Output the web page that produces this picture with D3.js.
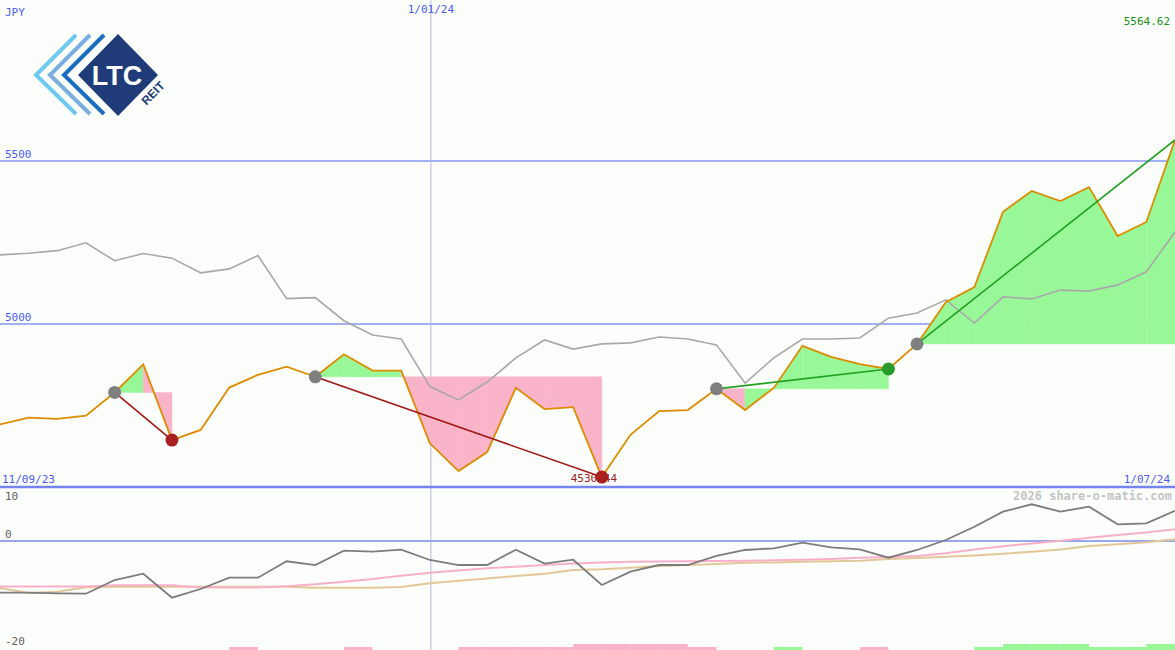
<!DOCTYPE html>
<html><head><meta charset="utf-8">
<script src="https://cdn.jsdelivr.net/npm/d3@7"></script>
<style>
html,body{margin:0;padding:0;background:#fcfefc;}
svg{display:block;}
text{font-family:"DejaVu Sans Mono",monospace;font-size:11px;}
</style></head><body>
<svg id="chart" width="1175" height="650"></svg>
<script>
// ---- data ----
const price = [4692,4713,4709,4719,4790,4876,4644,4675,4805,4844,4869,4838,4907,4857,4857,4634,4549,4607,4804,4739,4745,4530.44,4660,4733,4736,4801,4736,4804,4933,4899,4877,4862,4939,5067,5113,5344,5408,5377,5420,5270,5313,5564.62];
const compare = [5212,5217,5225,5249,5194,5216,5202,5157,5169,5210,5078,5081,5010,4966,4954,4808,4767,4822,4896,4951,4923,4939,4942,4960,4954,4936,4819,4896,4954,4954,4957,5018,5034,5074,5003,5083,5077,5104,5101,5120,5160,5282];
const momentum = [-9.66,-9.66,-9.78,-9.85,-7.29,-6.11,-10.6,-8.97,-6.86,-6.86,-3.79,-4.49,-1.81,-2.0,-1.63,-3.55,-4.49,-4.49,-1.63,-4.24,-3.5,-8.22,-5.74,-4.49,-4.49,-2.8,-1.68,-1.36,-0.32,-1.18,-1.55,-3.12,-1.68,0.19,2.67,5.48,6.86,5.48,6.41,3.12,3.31,5.66];
const maFast = [-8.5,-8.5,-8.5,-8.5,-8.25,-8.25,-8.25,-8.7,-8.7,-8.7,-8.45,-8.1,-7.6,-7.1,-6.5,-5.95,-5.5,-5.1,-4.8,-4.5,-4.2,-4.0,-3.9,-3.85,-3.8,-3.75,-3.7,-3.6,-3.5,-3.35,-3.15,-3.0,-2.8,-2.3,-1.6,-1.0,-0.45,0.05,0.6,1.1,1.6,2.2];
const maSlow = [-8.8,-9.7,-9.5,-8.65,-8.55,-8.55,-8.55,-8.55,-8.55,-8.55,-8.55,-8.73,-8.73,-8.73,-8.6,-7.9,-7.45,-7.0,-6.55,-6.1,-5.42,-5.3,-5.0,-4.67,-4.5,-4.3,-4.06,-4.0,-3.9,-3.8,-3.7,-3.36,-3.2,-2.93,-2.7,-2.4,-2.0,-1.6,-0.93,-0.6,-0.25,0.32];
const trendBars = [0,0,0,0,0,0,0,0,-1,0,0,0,-1,0,0,0,-1,-1,-1,-1,-2,-2,-2,-2,-1,0,0,1,0,0,-1,0,0,0,1,2,2,2,1,1,2];
const pivots = [{from:4,to:6,kind:"low"},{from:11,to:21,kind:"low"},{from:25,to:31,kind:"high"},{from:32,to:41,kind:"high"}];
const priceTicks = [5000,5500];
const lowerTicks = [10,0,-20];
const dateLabels = {start:"11/09/23", mid:"1/01/24", end:"1/07/24"};
const midIndex = 15;
const currency = "JPY";
const maxLabel = "5564.62";
const minLabel = "4530.44";
const minIndex = 21;
const watermark = "2026 share-o-matic.com";

// ---- scales ----
const W = 1175, H = 650;
const svg = d3.select("#chart");
const x = d3.scaleLinear().domain([0, price.length-1]).range([0, W]);
const y = d3.scaleLinear().domain([4500, 5500]).range([487, 161]);
const y2 = d3.scaleLinear().domain([0, -20]).range([541, 648]);

svg.append("rect").attr("width",W).attr("height",H).attr("fill","#fcfefc");

// gridlines
svg.selectAll(".pg").data(priceTicks).enter().append("line")
  .attr("x1",0).attr("x2",W).attr("y1",d=>y(d)).attr("y2",d=>y(d))
  .attr("stroke","#a4b0f4").attr("stroke-width",2);
svg.append("line").attr("x1",x(midIndex)+1).attr("x2",x(midIndex)+1).attr("y1",0).attr("y2",H)
  .attr("stroke","#b4b8d8").attr("stroke-width",1);

// fills
const fills = [];
pivots.forEach(p=>{
  const lvl = price[p.from];
  for(let i=p.from;i<p.to;i++){
    fills.push({pts:[[x(i),y(price[i])],[x(i+1),y(price[i+1])],[x(i+1),y(lvl)],[x(i),y(lvl)]], up: price[i+1]>=lvl});
  }
});
svg.selectAll(".fill").data(fills).enter().append("path")
  .attr("d",d=>"M"+d.pts.map(p=>p.join(",")).join("L")+"Z")
  .attr("fill",d=>d.up?"#98f898":"#f9b4c9").attr("stroke",d=>d.up?"#98f898":"#f9b4c9").attr("stroke-width",0.5);

const line = d3.line().x((d,i)=>x(i)).y(d=>y(d));
svg.append("path").attr("d",line(compare)).attr("fill","none").attr("stroke","#a8a8a8").attr("stroke-width",1.6);
svg.append("path").attr("d",line(price)).attr("fill","none").attr("stroke","#dd8c00").attr("stroke-width",1.8);

// min label
svg.append("text").attr("x",x(minIndex)-8).attr("y",482).attr("text-anchor","middle").attr("fill","#a02020").text(minLabel);

// trend lines
svg.selectAll(".tl").data(pivots).enter().append("line")
  .attr("x1",d=>x(d.from)).attr("y1",d=>y(price[d.from]))
  .attr("x2",d=>x(d.to)).attr("y2",d=>y(price[d.to]))
  .attr("stroke",d=>d.kind==="low"?"#a01818":"#22a022").attr("stroke-width",1.6);

// dots
svg.selectAll(".pd").data(pivots).enter().append("circle")
  .attr("cx",d=>x(d.from)).attr("cy",d=>y(price[d.from])).attr("r",6.5).attr("fill","#808080");
svg.selectAll(".ed").data(pivots.filter(p=>p.to<price.length-1)).enter().append("circle")
  .attr("cx",d=>x(d.to)).attr("cy",d=>y(price[d.to])).attr("r",6.5)
  .attr("fill",d=>d.kind==="low"?"#a82020":"#2a9a2a");

// separator
svg.append("line").attr("x1",0).attr("x2",W).attr("y1",487).attr("y2",487).attr("stroke","#7484f0").attr("stroke-width",2.5);
svg.append("line").attr("x1",0).attr("x2",W).attr("y1",y2(0)).attr("y2",y2(0)).attr("stroke","#9aa6f0").attr("stroke-width",2);

// lower panel
const line2 = d3.line().x((d,i)=>x(i)).y(d=>y2(d));
svg.append("path").attr("d",line2(maSlow)).attr("fill","none").attr("stroke","#e2c898").attr("stroke-width",2);
svg.append("path").attr("d",line2(maFast)).attr("fill","none").attr("stroke","#f8b0c8").attr("stroke-width",2);
svg.append("path").attr("d",line2(momentum)).attr("fill","none").attr("stroke","#7c7c7c").attr("stroke-width",1.8);

trendBars.forEach((d,i)=>{
  if(d===0) return;
  const h = Math.abs(d)*3;
  svg.append("rect").attr("x",x(i)).attr("width",x(i+1)-x(i)).attr("y",H-h).attr("height",h)
    .attr("fill",d>0?"#98f898":"#f9b4c9");
});

// labels
const blue = "#4b5cf2";
svg.append("text").attr("x",5).attr("y",16).attr("fill",blue).text(currency);
svg.append("text").attr("x",x(midIndex)+1).attr("y",13).attr("text-anchor","middle").attr("fill",blue).text(dateLabels.mid);
svg.append("text").attr("x",1170).attr("y",25).attr("text-anchor","end").attr("fill","#189018").text(maxLabel);
svg.selectAll(".pt").data(priceTicks).enter().append("text")
  .attr("x",5).attr("y",d=>y(d)-3).attr("fill",blue).text(d=>d);
svg.append("text").attr("x",2).attr("y",483).attr("fill",blue).text(dateLabels.start);
svg.append("text").attr("x",1170).attr("y",483).attr("text-anchor","end").attr("fill",blue).text(dateLabels.end);
svg.selectAll(".lt").data(lowerTicks).enter().append("text")
  .attr("x",5).attr("y",d=>d===10?500:y2(d)-3).attr("fill","#606060").text(d=>d);
svg.append("text").attr("x",1172).attr("y",500).attr("text-anchor","end").attr("fill","#c4c4c4")
  .style("font-weight","bold").style("font-size","12px").text(watermark);

// logo
const logo = svg.append("g");
[["#6ec9f2",36],["#7aaedf",50],["#1a6ec2",64]].forEach(([c,ax])=>{
  logo.append("polyline").attr("points",`${ax+40},35 ${ax},75 ${ax+40},114`)
    .attr("fill","none").attr("stroke",c).attr("stroke-width",4);
});
logo.append("polygon").attr("points","118,34 158,75 118,116 78,75").attr("fill","#1f3c78");
logo.append("text").attr("x",117).attr("y",85).attr("text-anchor","middle").attr("fill","#fff")
  .style("font-family","Liberation Sans, Arial, sans-serif").style("font-weight","bold").style("font-size","27px").text("LTC");
logo.append("text").attr("transform","translate(156,96) rotate(-46)").attr("text-anchor","middle").attr("fill","#1f3c78")
  .style("font-family","Liberation Sans, Arial, sans-serif").style("font-weight","bold").style("font-size","12px").text("REIT");
</script></body></html>
